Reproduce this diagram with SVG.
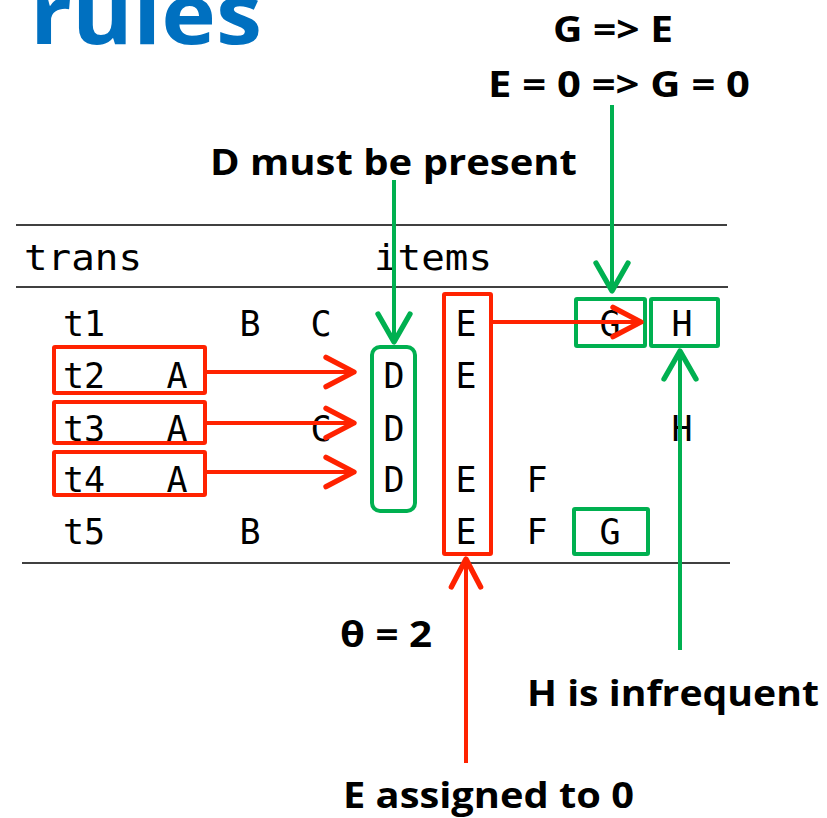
<svg xmlns="http://www.w3.org/2000/svg" width="827" height="818" viewBox="0 0 827 818">
<style>
.lbl{font-family:"Open Sans","Noto Sans","Liberation Sans",sans-serif;font-weight:bold;font-size:36px;fill:#000}
.title{font-family:"Open Sans","Noto Sans","Liberation Sans",sans-serif;font-weight:bold;font-size:84px;fill:#0070C0}
.mono{font-family:"DejaVu Sans Mono","Liberation Mono",monospace;font-size:35px;fill:#000}
.c{text-anchor:middle}
.rule{stroke:#404040;stroke-width:2;fill:none}
.red{stroke:#FF2200;stroke-width:4;fill:none;stroke-linejoin:round;stroke-linecap:round}
.grn{stroke:#00B050;stroke-width:4;fill:none;stroke-linejoin:round;stroke-linecap:round}
.redline{stroke:#FF2200;stroke-width:4;fill:none}
.grnline{stroke:#00B050;stroke-width:4;fill:none}
</style>
<defs>
<marker id="ar" markerUnits="userSpaceOnUse" markerWidth="40" markerHeight="40" refX="0" refY="0" viewBox="-26 -15 30 30" orient="auto" overflow="visible">
<path d="M-21,-11 L0,0 L-21,11" stroke="#FF2200" stroke-width="4" fill="none" stroke-linecap="round" stroke-linejoin="round"/>
</marker>
<marker id="ag" markerUnits="userSpaceOnUse" markerWidth="40" markerHeight="40" refX="0" refY="0" viewBox="-26 -15 30 30" orient="auto" overflow="visible">
<path d="M-21,-12 L0,0 L-21,12" stroke="#00B050" stroke-width="4" fill="none" stroke-linecap="round" stroke-linejoin="round"/>
</marker>
</defs>
<rect width="827" height="818" fill="#fff"/>
<text class="title" x="30" y="44" textLength="232" lengthAdjust="spacingAndGlyphs">rules</text>

<g id="table">
<line class="rule" x1="16" y1="225" x2="727" y2="225"/>
<line class="rule" x1="16" y1="287" x2="728" y2="287"/>
<line class="rule" x1="22" y1="563" x2="730" y2="563"/>
<text class="mono" x="24" y="270" textLength="118" lengthAdjust="spacingAndGlyphs">trans</text>
<text class="mono" x="374" y="270" textLength="118" lengthAdjust="spacingAndGlyphs">items</text>
<g id="row1">
<text class="mono" x="63" y="336">t1</text>
<text class="mono c" x="250" y="336">B</text>
<text class="mono c" x="321" y="336">C</text>
<text class="mono c" x="466" y="336">E</text>
<text class="mono c" x="610" y="336">G</text>
<text class="mono c" x="682" y="336">H</text>
</g>
<g id="row2">
<text class="mono" x="63" y="388">t2</text>
<text class="mono c" x="177" y="388">A</text>
<text class="mono c" x="394" y="388">D</text>
<text class="mono c" x="466" y="388">E</text>
</g>
<g id="row3">
<text class="mono" x="63" y="441">t3</text>
<text class="mono c" x="177" y="441">A</text>
<text class="mono c" x="321" y="441">C</text>
<text class="mono c" x="394" y="441">D</text>
<text class="mono c" x="682" y="441">H</text>
</g>
<g id="row4">
<text class="mono" x="63" y="492">t4</text>
<text class="mono c" x="177" y="492">A</text>
<text class="mono c" x="394" y="492">D</text>
<text class="mono c" x="466" y="492">E</text>
<text class="mono c" x="537" y="492">F</text>
</g>
<g id="row5">
<text class="mono" x="63" y="544">t5</text>
<text class="mono c" x="250" y="544">B</text>
<text class="mono c" x="466" y="544">E</text>
<text class="mono c" x="537" y="544">F</text>
<text class="mono c" x="610" y="544">G</text>
</g>
</g>

<g id="box-t2"><rect class="red" x="54" y="347" width="151" height="46" rx="1"/></g>
<g id="box-t3"><rect class="red" x="54" y="402" width="151" height="41" rx="1"/></g>
<g id="box-t4"><rect class="red" x="54" y="452" width="151" height="43" rx="1"/></g>
<g id="box-D"><rect class="grn" x="372" y="347" width="43" height="164" rx="8"/></g>
<g id="box-E"><rect class="red" x="444" y="294" width="47" height="260" rx="1"/></g>
<g id="box-G1"><rect class="grn" x="576" y="299" width="69" height="47" rx="1"/></g>
<g id="box-H1"><rect class="grn" x="651" y="299" width="67" height="47" rx="1"/></g>
<g id="box-G5"><rect class="grn" x="574" y="509" width="74" height="45" rx="1"/></g>

<g id="label-GE"><text class="lbl" x="553" y="42" textLength="120" lengthAdjust="spacingAndGlyphs">G =&gt; E</text></g>
<g id="label-E0"><text class="lbl" x="488" y="97" textLength="262" lengthAdjust="spacingAndGlyphs">E = 0 =&gt; G = 0</text></g>
<g id="label-D"><text class="lbl" x="210" y="175" textLength="367" lengthAdjust="spacingAndGlyphs">D must be present</text></g>
<g id="label-theta"><text class="lbl" x="340" y="647" textLength="92" lengthAdjust="spacingAndGlyphs">θ = 2</text></g>
<g id="label-H"><text class="lbl" x="527" y="706" textLength="292" lengthAdjust="spacingAndGlyphs">H is infrequent</text></g>
<g id="label-E"><text class="lbl" x="343" y="808" textLength="291" lengthAdjust="spacingAndGlyphs">E assigned to 0</text></g>

<g id="connectors">
<line class="redline" x1="205" y1="372" x2="354" y2="372" marker-end="url(#ar)"/>
<line class="redline" x1="205" y1="423" x2="354" y2="423" marker-end="url(#ar)"/>
<line class="redline" x1="205" y1="472" x2="354" y2="472" marker-end="url(#ar)"/>
<line class="redline" x1="491" y1="322" x2="641" y2="322" marker-end="url(#ar)"/>
<line class="redline" x1="466" y1="763" x2="466" y2="559" marker-end="url(#ar)"/>
<line class="grnline" x1="394" y1="180" x2="394" y2="342" marker-end="url(#ag)"/>
<line class="grnline" x1="612" y1="105" x2="612" y2="291" marker-end="url(#ag)"/>
<line class="grnline" x1="680" y1="650" x2="680" y2="351" marker-end="url(#ag)"/>
</g>
</svg>
